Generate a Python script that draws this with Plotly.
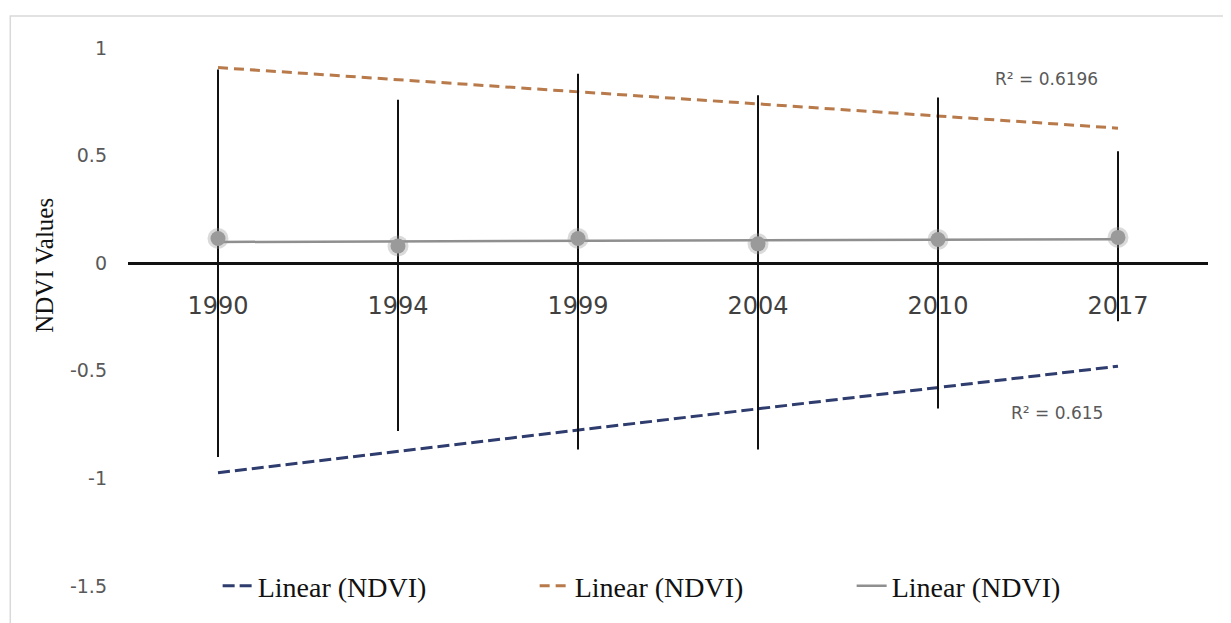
import numpy as np
import plotly.graph_objects as go

years = ["1990", "1994", "1999", "2004", "2010", "2017"]
ndvi_max = [0.90, 0.76, 0.88, 0.78, 0.77, 0.52]
ndvi_min = [-0.90, -0.78, -0.866, -0.866, -0.675, -0.27]
ndvi_mean = [0.115, 0.08, 0.115, 0.09, 0.11, 0.12]
r2_max_label = "R² = 0.6196"
r2_min_label = "R² = 0.615"
y_ticks = [-1.5, -1, -0.5, 0, 0.5, 1]
y_tick_text = ["-1.5", "-1", "-0.5", "0", "0.5", "1"]

xi = np.arange(len(years))


def trend(vals):
    k, b = np.polyfit(xi + 1, vals, 1)
    return k * (xi + 1) + b


fig = go.Figure()

# trend lines
fig.add_trace(go.Scatter(x=xi, y=trend(ndvi_min), mode="lines", name="Linear (NDVI)",
                         line=dict(color="#2e3c6e", width=3, dash="12px,5px"), legendrank=1))
fig.add_trace(go.Scatter(x=xi, y=trend(ndvi_max), mode="lines", name="Linear (NDVI)",
                         line=dict(color="#b87a4a", width=3, dash="10px,6px"), legendrank=2))
fig.add_trace(go.Scatter(x=xi, y=trend(ndvi_mean), mode="lines", name="Linear (NDVI)",
                         line=dict(color="#8f8f8f", width=2.5), legendrank=3))

# high-low lines
hx, hy = [], []
for i in range(len(years)):
    hx += [xi[i], xi[i], None]
    hy += [ndvi_min[i], ndvi_max[i], None]
fig.add_trace(go.Scatter(x=hx, y=hy, mode="lines", line=dict(color="#111111", width=2),
                         showlegend=False, hoverinfo="skip"))

# mean markers (halo + core)
fig.add_trace(go.Scatter(x=xi, y=ndvi_mean, mode="markers",
                         marker=dict(size=21, color="rgba(150,150,150,0.35)"),
                         showlegend=False, hoverinfo="skip"))
fig.add_trace(go.Scatter(x=xi, y=ndvi_mean, mode="markers",
                         marker=dict(size=15, color="#9a9a9a"),
                         showlegend=False))

fig.add_annotation(x=4.6, y=trend(ndvi_max)[5], yshift=49, text=r2_max_label, showarrow=False,
                   font=dict(family="DejaVu Sans", size=17, color="#595959"), xanchor="center")
fig.add_annotation(x=4.66, y=trend(ndvi_min)[5], yshift=-47, text=r2_min_label, showarrow=False,
                   font=dict(family="DejaVu Sans", size=17, color="#595959"), xanchor="center")

fig.add_annotation(xref="paper", yref="paper", x=-0.0769, y=0.597, text="NDVI Values",
                   textangle=-90, showarrow=False, xanchor="center", yanchor="middle",
                   font=dict(family="Liberation Serif", size=25, color="#111111"))

fig.add_shape(type="rect", xref="paper", yref="paper", x0=-0.109, x1=1.0167, y0=-0.07, y1=1.0595,
              line=dict(color="#d9d9d9", width=1.5), fillcolor="rgba(0,0,0,0)", layer="below")

fig.update_layout(
    width=1223, height=615,
    margin=dict(l=120, r=23, t=40, b=37),
    paper_bgcolor="white", plot_bgcolor="white",
    showlegend=True,
    legend=dict(orientation="h", x=0.083, y=0.0, xanchor="left", yanchor="middle",
                font=dict(family="Liberation Serif", size=28, color="#111111"),
                bgcolor="rgba(0,0,0,0)", entrywidth=272, entrywidthmode="pixels",
                traceorder="normal"),
    xaxis=dict(range=[-0.5, 5.5], tickvals=list(xi), ticktext=years, anchor="free", position=0.6,
               showgrid=False, zeroline=False, showline=False, ticks="",
               ticklabelstandoff=26,
               tickfont=dict(family="DejaVu Sans", size=24, color="#404040")),
    yaxis=dict(range=[-1.5, 1], tickvals=y_ticks, ticktext=y_tick_text,
               showgrid=False, zeroline=True, zerolinecolor="#111111", zerolinewidth=3,
               showline=False, ticks="", ticklabelstandoff=20,
               tickfont=dict(family="DejaVu Sans", size=19, color="#595959")),
)

fig.write_html("out.html")
